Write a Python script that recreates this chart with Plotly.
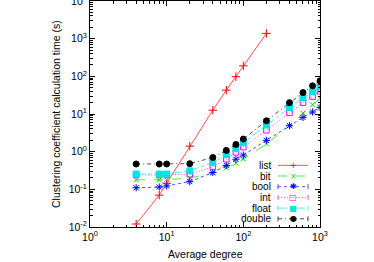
import plotly.graph_objects as go

# ---- data ----
degree = [4, 8, 10, 20, 40, 60, 80, 100, 200, 400, 600, 800, 1000]
list_degree = [4, 8, 10, 20, 40, 60, 80, 100, 200]
t_list = [0.012, 0.07, 0.145, 1.4, 12.6, 43, 98, 190, 1380]
t_bit = [0.18, 0.18, 0.18, 0.20, 0.27, 0.37, 0.49, 0.64, 1.6, 4.9, 10.5, 17.5, 26]
t_bool = [0.11, 0.115, 0.123, 0.16, 0.28, 0.43, 0.63, 0.81, 2.0, 4.9, 8.1, 11.3, 15]
t_int = [0.24, 0.24, 0.24, 0.25, 0.40, 0.63, 0.96, 1.32, 3.7, 10.7, 20, 29, 40]
t_float = [0.255, 0.255, 0.255, 0.31, 0.52, 0.83, 1.2, 1.72, 5.1, 15, 27, 39, 52]
t_double = [0.47, 0.47, 0.47, 0.48, 0.70, 1.08, 1.55, 2.16, 6.6, 20, 37, 56, 76]

x_tickvals = [1, 10, 100, 1000]
x_ticktext = ["10<sup>0</sup>", "10<sup>1</sup>", "10<sup>2</sup>", "10<sup>3</sup>"]
y_tickvals = [0.01, 0.1, 1, 10, 100, 1000, 10000]
y_ticktext = ["10<sup>-2</sup>", "10<sup>-1</sup>", "10<sup>0</sup>", "10<sup>1</sup>",
              "10<sup>2</sup>", "10<sup>3</sup>", "10<sup>4</sup>"]

series = [
    ("list", list_degree, t_list, "#ff0000", "solid", "cross-thin", 6, False, "+"),
    ("bit", degree, t_bit, "#00dd00", "dash", "x-thin", 5, False, "×"),
    ("bool", degree, t_bool, "#0000ff", "dot", "asterisk-open", 6, True, "✱"),
    ("int", degree, t_int, "#ff00ff", "1px,2px", "square-open", 5.5, True, "□"),
    ("float", degree, t_float, "#00e5e5", "dashdot", "square", 6, True, "■"),
    ("double", degree, t_double, "#000000", "4px,3px,1px,3px", "circle", 6, True, "●"),
]

FONT = "Liberation Sans, Arial, sans-serif"
fig = go.Figure()
for name, xs, ys, col, dash, sym, size, _, _ in series:
    fig.add_trace(go.Scatter(
        x=xs, y=ys, mode="lines+markers", name=name, showlegend=False,
        line=dict(color=col, width=0.7, dash=dash),
        marker=dict(symbol=sym, size=size, color=col,
                    line=dict(color=col, width=1)),
    ))

# custom gnuplot-style key (text left of sample)
L, R, T, B = 90, 54, 1, 35
W, H = 374, 262
pw, ph = W - L - R, H - T - B
def px_x(px):
    return (px - L) / pw
def px_y(py):
    return (H - B - py) / ph

shapes, annotations = [], []
row0, step = 165.3, 10.7
for i, (name, xs, ys, col, dash, sym, size, ends, glyph) in enumerate(series):
    yy = row0 + i * step
    annotations.append(dict(x=px_x(272), y=px_y(yy), xref="paper", yref="paper",
                            text=name, showarrow=False, xanchor="right", yanchor="middle",
                            borderpad=0,
                            font=dict(family=FONT, size=10, color="black")))
    shapes.append(dict(type="line", xref="paper", yref="paper",
                       x0=px_x(278), x1=px_x(308), y0=px_y(yy), y1=px_y(yy),
                       line=dict(color=col, width=0.7, dash=dash)))
    if ends:
        for ex in (278, 308):
            shapes.append(dict(type="line", xref="paper", yref="paper",
                               x0=px_x(ex), x1=px_x(ex), y0=px_y(yy - 2.5), y1=px_y(yy + 2.5),
                               line=dict(color=col, width=0.7)))
    annotations.append(dict(x=px_x(293), y=px_y(yy), xref="paper", yref="paper",
                            text=glyph, showarrow=False, xanchor="center", yanchor="middle",
                            borderpad=0,
                            font=dict(family="DejaVu Sans", size=8, color=col)))

# axis titles placed like gnuplot's
annotations.append(dict(x=0.5, y=px_y(254), xref="paper", yref="paper",
                        text="Average degree", showarrow=False,
                        xanchor="center", yanchor="middle",
                        font=dict(family=FONT, size=10.5, color="black")))
annotations.append(dict(x=px_x(56), y=px_y(114), xref="paper", yref="paper",
                        text="Clustering coefficient calculation time (s)", showarrow=False,
                        textangle=-90, xanchor="center", yanchor="middle",
                        font=dict(family=FONT, size=10.5, color="black")))

axis_common = dict(
    type="log", showgrid=False, zeroline=False, showline=True, linecolor="black",
    linewidth=1, mirror="allticks", ticks="inside", ticklen=5, tickcolor="black",
    tickwidth=1, tickmode="array", ticklabeloverflow="allow", automargin=False,
    tickfont=dict(family=FONT, size=10.5, color="black"),
)
minor_x = [m * 10 ** e for e in range(0, 3) for m in range(2, 10)]
minor_y = [m * 10 ** e for e in range(-2, 4) for m in range(2, 10)]

fig.update_layout(
    width=W, height=H,
    margin=dict(l=L, r=R, t=T, b=B, pad=0, autoexpand=False),
    paper_bgcolor="white", plot_bgcolor="white",
    font=dict(family=FONT, size=10.5, color="black"),
    xaxis=dict(axis_common, range=[0, 3], tickvals=x_tickvals, ticktext=x_ticktext,
               minor=dict(tickmode="array", tickvals=minor_x, ticks="inside",
                          ticklen=2.5, tickcolor="black")),
    yaxis=dict(axis_common, range=[-2, 4], tickvals=y_tickvals, ticktext=y_ticktext,
               minor=dict(tickmode="array", tickvals=minor_y, ticks="inside",
                          ticklen=2.5, tickcolor="black")),
    shapes=shapes, annotations=annotations,
)

fig.write_html("out.html", config={"displayModeBar": False},
               post_script="document.body.style.margin='0';document.body.style.padding='0';")
